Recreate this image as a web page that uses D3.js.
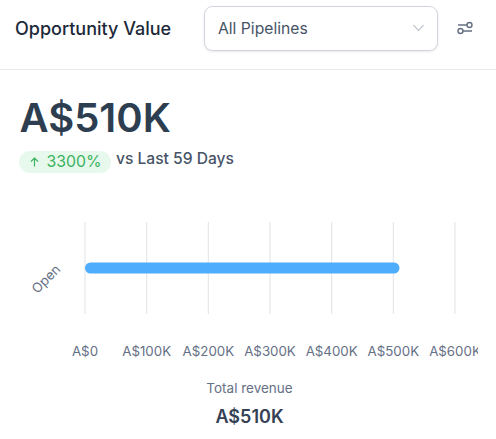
<!DOCTYPE html>
<meta charset="utf-8">
<style>

html, body {
  margin: 0;
  background: #fff;
  overflow: hidden;
}

svg {
  display: block;
  font-family: Inter, sans-serif;
}

.grid line {
  stroke: #e5e7eb;
  stroke-width: 1.2;
}

.axis text {
  fill: #667085;
  font-size: 13.3px;
}

</style>
<svg width="496" height="439"></svg>
<script src="https://d3js.org/d3.v7.min.js"></script>
<script>

var categories = ["Open"];
var values = [510000];
var ticks = [0, 100000, 200000, 300000, 400000, 500000, 600000];
var tickLabels = ["A$0", "A$100K", "A$200K", "A$300K", "A$400K", "A$500K", "A$600K"];

var svg = d3.select("svg");

var x = d3.scaleLinear()
    .domain([0, 600000])
    .range([85, 455]);

var y = d3.scaleBand()
    .domain(categories)
    .range([222, 314])
    .paddingInner(0)
    .paddingOuter(3.68);

// header
svg.append("text")
    .attr("x", 15)
    .attr("y", 35)
    .attr("fill", "#1d2939")
    .style("font-size", "18px")
    .style("font-weight", 500)
    .text("Opportunity Value");

svg.append("rect")
    .attr("x", 204.5)
    .attr("y", 6.5)
    .attr("width", 233)
    .attr("height", 44)
    .attr("rx", 8)
    .attr("fill", "#fff")
    .attr("stroke", "#d0d5dd")
    .style("filter", "drop-shadow(0 1px 1px rgba(16,24,40,0.1))");

svg.append("text")
    .attr("x", 218)
    .attr("y", 34)
    .attr("fill", "#475467")
    .style("font-size", "15.7px")
    .text("All Pipelines");

svg.append("path")
    .attr("d", "M413.5 25 L418.5 30.5 L423.5 25")
    .attr("fill", "none")
    .attr("stroke", "#c4c9d2")
    .attr("stroke-width", 1.2);

// filter icon
var icon = svg.append("g")
    .attr("fill", "none")
    .attr("stroke", "#667085")
    .attr("stroke-width", 1.4);
icon.append("path").attr("d", "M458 25 H467 M463 31 H472");
icon.append("circle").attr("cx", 469.5).attr("cy", 25).attr("r", 2.5);
icon.append("circle").attr("cx", 460.5).attr("cy", 31).attr("r", 2.5);

svg.append("line")
    .attr("x1", 0)
    .attr("x2", 496)
    .attr("y1", 69.5)
    .attr("y2", 69.5)
    .attr("stroke", "#e8eaed");

// headline
svg.append("text")
    .attr("x", 19.5)
    .attr("y", 132)
    .attr("fill", "#2d3e50")
    .style("font-size", "40px")
    .style("font-weight", 600)
    .text("A$510K");

svg.append("rect")
    .attr("x", 19)
    .attr("y", 151)
    .attr("width", 92)
    .attr("height", 22)
    .attr("rx", 11)
    .attr("fill", "#e7f8ec");

svg.append("path")
    .attr("d", "M34.5 166.5 V158.5 M31 161.5 L34.5 158 L38 161.5")
    .attr("fill", "none")
    .attr("stroke", "#3cb260")
    .attr("stroke-width", 1.2);

svg.append("text")
    .attr("x", 46.5)
    .attr("y", 167)
    .attr("fill", "#3cb260")
    .style("font-size", "15.8px")
    .style("font-weight", 400)
    .text("3300%");

svg.append("text")
    .attr("x", 116)
    .attr("y", 164)
    .attr("fill", "#475467")
    .style("font-size", "15.6px")
    .style("font-weight", 500)
    .text("vs Last 59 Days");

// chart
svg.append("g")
    .attr("class", "grid")
  .selectAll("line")
  .data(ticks)
  .enter().append("line")
    .attr("x1", function(d) { return x(d); })
    .attr("x2", function(d) { return x(d); })
    .attr("y1", 222)
    .attr("y2", 314);

svg.selectAll(".bar")
  .data(values)
  .enter().append("rect")
    .attr("class", "bar")
    .attr("x", x(0))
    .attr("y", function(d, i) { return y(categories[i]); })
    .attr("width", function(d) { return x(d) - x(0); })
    .attr("height", y.bandwidth())
    .attr("rx", 5.5)
    .attr("fill", "#4fadfd");

var yLabelX = 46;
svg.append("g")
    .attr("class", "axis")
  .selectAll("text")
  .data(categories)
  .enter().append("text")
    .attr("text-anchor", "middle")
    .attr("dy", ".35em")
    .attr("transform", function(d) {
      return "translate(" + yLabelX + "," + (y(d) + y.bandwidth() / 2 + 11) + ") rotate(-45)";
    })
    .text(function(d) { return d; });

// last label is cut off at the edge of the chart area
svg.append("clipPath")
    .attr("id", "axis-clip")
  .append("rect")
    .attr("x", 0)
    .attr("y", 330)
    .attr("width", 478)
    .attr("height", 40);

svg.append("g")
    .attr("class", "axis")
    .attr("clip-path", "url(#axis-clip)")
  .selectAll("text")
  .data(ticks)
  .enter().append("text")
    .attr("x", function(d) { return x(d); })
    .attr("y", 356)
    .attr("text-anchor", "middle")
    .text(function(d, i) { return tickLabels[i]; });

// footer
svg.append("text")
    .attr("x", 249.5)
    .attr("y", 393)
    .attr("text-anchor", "middle")
    .attr("fill", "#667085")
    .style("font-size", "13.5px")
    .text("Total revenue");

svg.append("text")
    .attr("x", 249.5)
    .attr("y", 423)
    .attr("text-anchor", "middle")
    .attr("fill", "#344054")
    .style("font-size", "18px")
    .style("font-weight", 600)
    .text("A$510K");

</script>
